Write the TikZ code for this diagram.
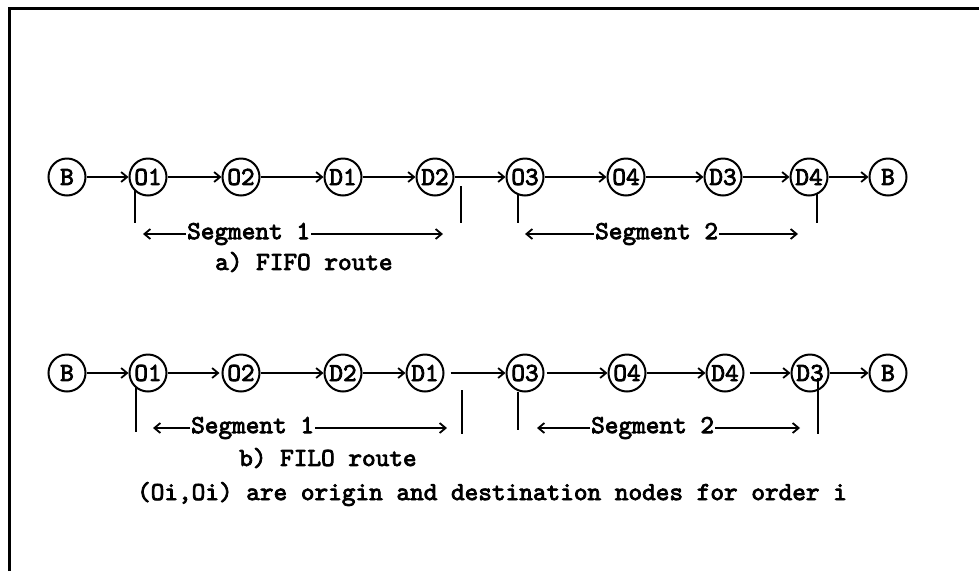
\documentclass[tikz,border=0pt]{standalone}
\usepackage{fontspec}
\newfontfamily\typew{lmmono10-regular}[Extension=.otf, FakeBold=3]
\usetikzlibrary{arrows.meta}
\begin{document}
\begin{tikzpicture}[x=1pt,y=-1pt,
  every node/.style={font=\typew\fontsize{26}{28}\selectfont},
  stop/.style={circle,draw,line width=2pt,minimum size=37pt,inner sep=0pt},
  link/.style={-{Straight Barb[length=6pt,width=10pt,line width=1.8pt]},line width=2pt},
  tickline/.style={line width=2pt},
  lbl/.style={inner sep=1pt}]
\useasboundingbox (0,0) rectangle (979,571);
\draw[line width=3pt] (9,571) -- (9,8) -- (979,8);

% ---- row a (FIFO)
\node[stop] (aB)  at (67,177)  {B};
\node[stop] (aO1) at (148,177) {O1};
\node[stop] (aO2) at (241,177) {O2};
\node[stop] (aD1) at (343,177) {D1};
\node[stop] (aD2) at (435,177) {D2};
\node[stop] (aO3) at (525,177) {O3};
\node[stop] (aO4) at (626,177) {O4};
\node[stop] (aD3) at (723,177) {D3};
\node[stop] (aD4) at (809,177) {D4};
\node[stop] (aBe) at (888,177) {B};
\draw[link] (aB) -- (aO1);
\draw[link] (aO1) -- (aO2);
\draw[link] (aO2) -- (aD1);
\draw[link] (aD1) -- (aD2);
\draw[link] (aD2) -- (aO3);
\draw[link] (aO3) -- (aO4);
\draw[link] (aO4) -- (aD3);
\draw[link] (aD3) -- (aD4);
\draw[link] (aD4) -- (aBe);

\coordinate (ta1s) at (135,191); \coordinate (ta1e) at (135,223);
\coordinate (ta2s) at (461,186); \coordinate (ta2e) at (461,223);
\coordinate (ta3s) at (518,195); \coordinate (ta3e) at (518,223);
\coordinate (ta4s) at (817,194); \coordinate (ta4e) at (817,223);
\draw[tickline] (ta1s) -- (ta1e);
\draw[tickline] (ta2s) -- (ta2e);
\draw[tickline] (ta3s) -- (ta3e);
\draw[tickline] (ta4s) -- (ta4e);

\node[lbl,anchor=west] (sa1) at (186,234) {Segment 1};
\coordinate (sa1l) at (143,234); \coordinate (sa1r) at (443,234);
\draw[link] (sa1.west) -- (sa1l);
\draw[link] (sa1.east) -- (sa1r);
\node[lbl,anchor=west] (sa2) at (594,234) {Segment 2};
\coordinate (sa2l) at (525,234); \coordinate (sa2r) at (798,234);
\draw[link] (sa2.west) -- (sa2l);
\draw[link] (sa2.east) -- (sa2r);
\node[lbl,anchor=west] (capa) at (214,262) {a) FIFO route};

% ---- row b (FILO)
\node[stop] (bB)  at (67,373)  {B};
\node[stop] (bO1) at (148,373) {O1};
\node[stop] (bO2) at (241,373) {O2};
\node[stop] (bD2) at (343,373) {D2};
\node[stop] (bD1) at (425,373) {D1};
\node[stop] (bO3) at (525,373) {O3};
\node[stop] (bO4) at (627,373) {O4};
\node[stop] (bD4) at (725,373) {D4};
\node[stop] (bD3) at (810,373) {D3};
\node[stop] (bBe) at (888,373) {B};
\draw[link] (bB) -- (bO1);
\draw[link,shorten >=2pt] (bO1) -- (bO2);
\draw[link] (bO2) -- (bD2);
\draw[link] (bD2) -- (bD1);
\draw[link,shorten <=6pt] (bD1) -- (bO3);
\draw[link,shorten <=2pt] (bO3) -- (bO4);
\draw[link] (bO4) -- (bD4);
\draw[link,shorten <=5pt] (bD4) -- (bD3);
\draw[link] (bD3) -- (bBe);

\coordinate (tb1s) at (136,387); \coordinate (tb1e) at (136,432);
\coordinate (tb2s) at (462,390); \coordinate (tb2e) at (462,434);
\coordinate (tb3s) at (518,392); \coordinate (tb3e) at (518,430);
\coordinate (tb4s) at (818,378); \coordinate (tb4e) at (818,434);
\draw[tickline] (tb1s) -- (tb1e);
\draw[tickline] (tb2s) -- (tb2e);
\draw[tickline] (tb3s) -- (tb3e);
\draw[tickline] (tb4s) -- (tb4e);

\node[lbl,anchor=west] (sb1) at (190,428) {Segment 1};
\coordinate (sb1l) at (153,428); \coordinate (sb1r) at (447,428);
\draw[link] (sb1.west) -- (sb1l);
\draw[link] (sb1.east) -- (sb1r);
\node[lbl,anchor=west] (sb2) at (590,428) {Segment 2};
\coordinate (sb2l) at (537,428); \coordinate (sb2r) at (800,428);
\draw[link] (sb2.west) -- (sb2l);
\draw[link] (sb2.east) -- (sb2r);
\node[lbl,anchor=west] (capb) at (238,458) {b) FILO route};

\node[lbl] (note) at (492,494) {(Oi,Oi) are origin and destination nodes for order i};
\end{tikzpicture}
\end{document}
